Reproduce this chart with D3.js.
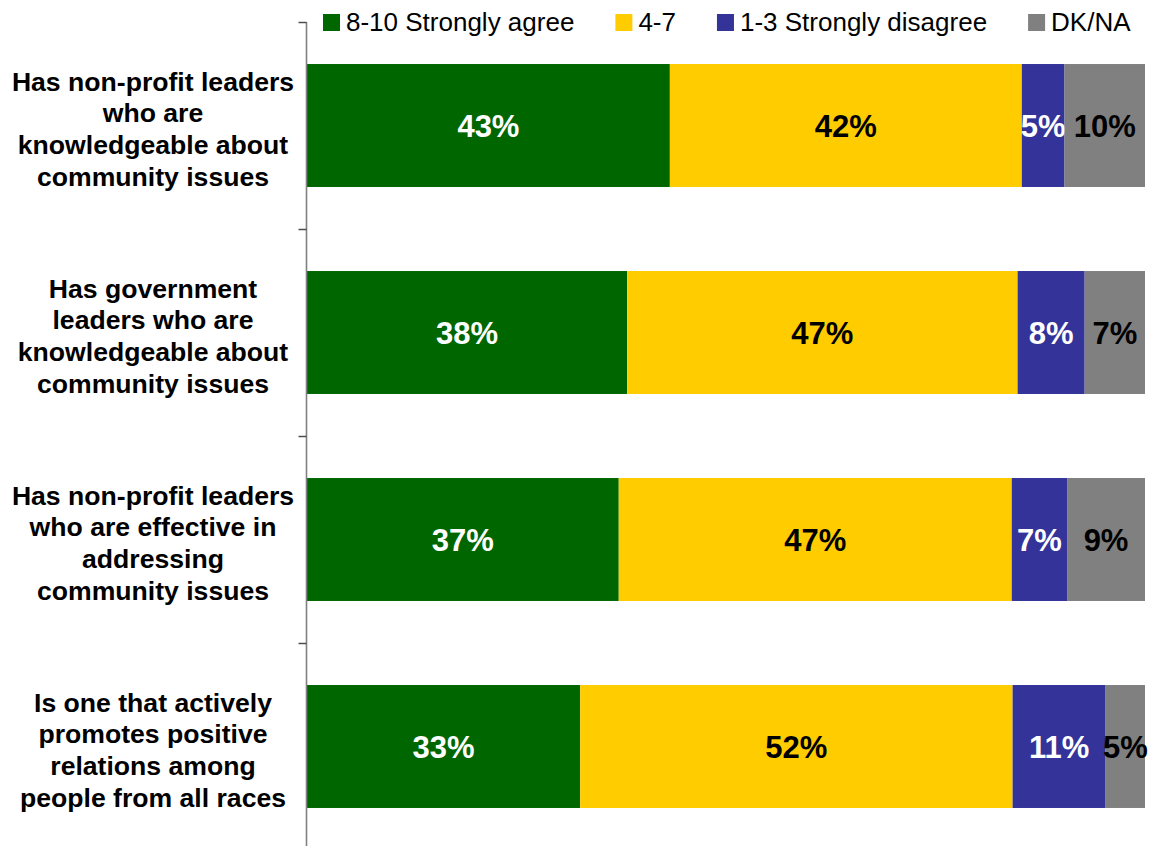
<!DOCTYPE html>
<meta charset="utf-8">
<script src="https://d3js.org/d3.v7.min.js"></script>
<style>
  body { margin: 0; background: #fff; }
  text { font-family: "Liberation Sans", Arial, sans-serif; }
</style>
<div id="chart"></div>
<script>

// category labels (line breaks as in the original)
var categories = [
  "Has non-profit leaders\nwho are\nknowledgeable about\ncommunity issues",
  "Has government\nleaders who are\nknowledgeable about\ncommunity issues",
  "Has non-profit leaders\nwho are effective in\naddressing\ncommunity issues",
  "Is one that actively\npromotes positive\nrelations among\npeople from all races"
];

var seriesNames = ["8-10 Strongly agree", "4-7", "1-3 Strongly disagree", "DK/NA"];

// percent values per row
var agree    = [43.3, 38.2, 37.2, 32.6];
var middle   = [42.0, 46.6, 46.9, 51.6];
var disagree = [5.1, 8.0, 6.6, 11.1];
var dkna     = [9.6, 7.2, 9.3, 4.7];

var colors     = ["#006600", "#FFCC00", "#333399", "#808080"];
var textColors = ["#ffffff", "#000000", "#ffffff", "#000000"];

var W = 1159, H = 846;
var margin = {top: 22, right: 14, bottom: -4, left: 307};

// build rows for d3.stack
var keys = ["s0", "s1", "s2", "s3"];
var rows = categories.map(function(c, i) {
  return {cat: c, s0: agree[i], s1: middle[i], s2: disagree[i], s3: dkna[i]};
});

var stacked = d3.stack().keys(keys).offset(d3.stackOffsetExpand)(rows);

var svg = d3.select("#chart").append("svg")
  .attr("width", W)
  .attr("height", H);

var x = d3.scaleLinear()
  .domain([0, 1])
  .range([margin.left, W - margin.right]);

// outer band = one slot per category (for the ticks), inner band = the bars
var yCat = d3.scaleBand()
  .domain(categories)
  .range([margin.top, H - margin.bottom])
  .padding(0);

var y = d3.scaleBand()
  .domain(categories)
  .range([margin.top, H - margin.bottom])
  .paddingInner(0.406)
  .paddingOuter(0.203);

// bars
var layer = svg.selectAll("g.layer")
  .data(stacked)
  .enter().append("g")
    .attr("class", "layer")
    .attr("fill", function(d, i) { return colors[i]; });

layer.selectAll("rect")
  .data(function(d) { return d; })
  .enter().append("rect")
    .attr("x", function(d) { return x(d[0]); })
    .attr("y", function(d) { return y(d.data.cat); })
    .attr("width", function(d) { return x(d[1]) - x(d[0]); })
    .attr("height", y.bandwidth());

// value labels
layer.each(function(s, si) {
  d3.select(this).selectAll("text")
    .data(s)
    .enter().append("text")
      .attr("x", function(d) { return (x(d[0]) + x(d[1])) / 2; })
      .attr("y", function(d) { return y(d.data.cat) + y.bandwidth() / 2; })
      .attr("dy", "0.36em")
      .attr("text-anchor", "middle")
      .attr("fill", textColors[si])
      .style("font-size", "31px")
      .style("font-weight", "bold")
      .text(function(d) { return Math.round(d.data[s.key]) + "%"; });
});

// category axis: line + ticks at slot boundaries
var axisX = margin.left - 0.5;
svg.append("line")
  .attr("x1", axisX).attr("x2", axisX)
  .attr("y1", margin.top).attr("y2", H)
  .attr("stroke", "#808080")
  .attr("stroke-width", 1.6);

var tickYs = categories.map(function(c) { return yCat(c); });
svg.selectAll("line.tick")
  .data(tickYs)
  .enter().append("line")
    .attr("class", "tick")
    .attr("x1", axisX - 8).attr("x2", axisX)
    .attr("y1", function(d) { return Math.round(d) + 0.5; })
    .attr("y2", function(d) { return Math.round(d) + 0.5; })
    .attr("stroke", "#4d4d4d")
    .attr("stroke-width", 1.5);

// category labels
var lineH = 31.7;
svg.selectAll("text.cat")
  .data(categories)
  .enter().append("text")
    .attr("class", "cat")
    .attr("text-anchor", "middle")
    .style("font-size", "26.6px")
    .style("font-weight", "bold")
    .attr("fill", "#000")
    .each(function(c) {
      var lines = c.split("\n");
      var cy = y(c) + y.bandwidth() / 2 + 3;
      var t = d3.select(this);
      lines.forEach(function(l, i) {
        t.append("tspan")
          .attr("x", 153)
          .attr("y", cy + (i - (lines.length - 1) / 2) * lineH)
          .attr("dy", "0.36em")
          .text(l);
      });
    });

// legend
var legend = svg.append("g");
var lx = 323;
seriesNames.forEach(function(name, i) {
  legend.append("rect")
    .attr("x", lx).attr("y", 14)
    .attr("width", 17).attr("height", 17)
    .attr("fill", colors[i]);
  var t = legend.append("text")
    .attr("x", lx + 23).attr("y", 31)
    .style("font-size", "26px")
    .attr("fill", "#000")
    .text(name);
  lx += 23 + t.node().getComputedTextLength() + 41;
});

</script>
